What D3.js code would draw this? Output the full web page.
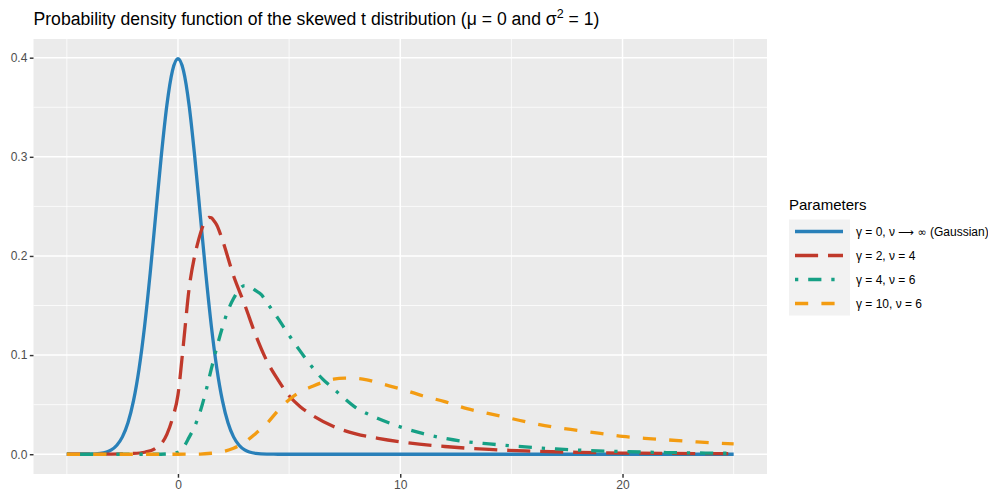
<!DOCTYPE html>
<html>
<head>
<meta charset="utf-8">
<script src="https://cdn.jsdelivr.net/npm/d3@7"></script>
<style>
  body { margin: 0; background: #ffffff; }
  text { font-family: "Liberation Sans", Arial, Helvetica, sans-serif; }
</style>
</head>
<body>
<svg id="chart" width="988" height="491"></svg>
<script>
// ---- density curves (x, density) ----
const gaussX = [-5, -4.5, -4, -3.5, -3, -2.75, -2.5, -2.25, -2, -1.75, -1.5, -1.25, -1, -0.75, -0.5, -0.25, 0,
  0.25, 0.5, 0.75, 1, 1.25, 1.5, 1.75, 2, 2.25, 2.5, 2.75, 3, 3.5, 4, 4.5, 5, 10, 15, 20, 25];
const gaussY = [0, 0, 0.0001, 0.0009, 0.0044, 0.0091, 0.0175, 0.0317, 0.054, 0.0863, 0.1295, 0.1826, 0.242, 0.3011, 0.3521, 0.3867, 0.3989,
  0.3867, 0.3521, 0.3011, 0.242, 0.1826, 0.1295, 0.0863, 0.054, 0.0317, 0.0175, 0.0091, 0.0044, 0.0009, 0.0001, 0, 0, 0, 0, 0, 0];

const skew2X = [-5, -3, -2, -1.5, -1, -0.5, -0.25, 0, 0.25, 0.5, 0.75, 0.9, 1, 1.1, 1.2, 1.3, 1.4, 1.5, 1.6, 1.75, 2, 2.5, 3, 3.5, 4, 4.5,
  5, 5.5, 6, 7, 8, 9, 10, 12, 14, 16, 18, 20, 22, 25];
const skew2Y = [0, 0.0002, 0.0008, 0.002, 0.006, 0.02, 0.036, 0.06, 0.112, 0.167, 0.2, 0.214, 0.222, 0.229, 0.234, 0.2375, 0.239, 0.2385, 0.236, 0.231, 0.216, 0.18, 0.151, 0.12, 0.094, 0.075,
  0.059, 0.048, 0.04, 0.028, 0.0205, 0.016, 0.0125, 0.0078, 0.0048, 0.0031, 0.0019, 0.0012, 0.0008, 0.0005];

const skew4X = [-5, -1, -0.5, 0, 0.25, 0.5, 0.75, 1, 1.25, 1.5, 1.75, 2, 2.25, 2.5, 2.75, 3, 3.25, 3.5, 3.75, 4, 4.5,
  5, 5.5, 6, 6.5, 7, 7.5, 8, 8.5, 9, 10, 11, 12, 13, 14, 15, 16, 17, 18, 20, 22, 25];
const skew4Y = [0, 0, 0.0003, 0.002, 0.007, 0.017, 0.028, 0.043, 0.063, 0.086, 0.108, 0.128, 0.145, 0.157, 0.166, 0.17, 0.169, 0.165, 0.161, 0.153, 0.137,
  0.12, 0.104, 0.089, 0.076, 0.066, 0.056, 0.047, 0.041, 0.036, 0.0276, 0.021, 0.016, 0.0125, 0.0104, 0.0085, 0.0068, 0.0053, 0.0042, 0.0027, 0.0017, 0.0009];

const skew10X = [-5, 0, 1, 1.5, 2, 2.5, 3, 3.5, 4, 4.5, 5, 5.5, 6, 6.5, 7, 7.5, 8, 8.5, 9, 9.5, 10,
  11, 12, 13, 14, 15, 16, 17, 18, 19, 20, 21, 22, 23, 24, 25];
const skew10Y = [0, 0, 0.0002, 0.001, 0.0025, 0.006, 0.012, 0.021, 0.031, 0.044, 0.055, 0.063, 0.068, 0.0725, 0.0757, 0.0767, 0.0765, 0.075, 0.072, 0.069, 0.066,
  0.059, 0.053, 0.046, 0.041, 0.036, 0.031, 0.027, 0.024, 0.021, 0.018, 0.016, 0.0145, 0.013, 0.0115, 0.0105];

const seriesLabels = ["γ = 0, ν ⟶ ∞ (Gaussian)", "γ = 2, ν = 4", "γ = 4, ν = 6", "γ = 10, ν = 6"];
const seriesColors = ["#2980B9", "#C0392B", "#16A085", "#F39C12"];

const xTicks = [0, 10, 20];
const xMinorTicks = [-5, 5, 15, 25];
const yTicks = [0, 0.1, 0.2, 0.3, 0.4];
const yMinorTicks = [0.05, 0.15, 0.25, 0.35];

// ---- layout ----
const svg = d3.select("#chart");
const panel = { left: 33.5, right: 767, top: 39, bottom: 474 };
const lw = 3.3; // curve line width
const dashes = [null, [7 * lw, 3 * lw], [1 * lw, 3 * lw, 4 * lw, 3 * lw], [4 * lw, 4 * lw]];

const series = [
  { xs: gaussX, ys: gaussY },
  { xs: skew2X, ys: skew2Y },
  { xs: skew4X, ys: skew4Y },
  { xs: skew10X, ys: skew10Y }
].map((s, i) => ({
  points: s.xs.map((x, j) => [x, s.ys[j]]),
  label: seriesLabels[i],
  color: seriesColors[i],
  dash: dashes[i]
}));

// data range with 5% expansion on each side
const allX = series.flatMap(s => s.points.map(p => p[0]));
const allY = series.flatMap(s => s.points.map(p => p[1]));
const [x0, x1] = d3.extent(allX);
const yMax = d3.max(allY), yMin = d3.min(allY);
const xPad = (x1 - x0) * 0.05, yPad = (yMax - yMin) * 0.05;

const x = d3.scaleLinear().domain([x0 - xPad, x1 + xPad]).range([panel.left, panel.right]);
const y = d3.scaleLinear().domain([yMin - yPad, yMax + yPad]).range([panel.bottom, panel.top]);

// panel background
svg.append("rect")
  .attr("x", panel.left).attr("y", panel.top)
  .attr("width", panel.right - panel.left).attr("height", panel.bottom - panel.top)
  .attr("fill", "#EBEBEB");

const grid = svg.append("g");
// minor grid
grid.selectAll(".vminor").data(xMinorTicks).join("line")
  .attr("x1", d => x(d)).attr("x2", d => x(d))
  .attr("y1", panel.top).attr("y2", panel.bottom)
  .attr("stroke", "#ffffff").attr("stroke-width", 0.75);
grid.selectAll(".hminor").data(yMinorTicks).join("line")
  .attr("x1", panel.left).attr("x2", panel.right)
  .attr("y1", d => y(d)).attr("y2", d => y(d))
  .attr("stroke", "#ffffff").attr("stroke-width", 0.75);
// major grid
grid.selectAll(".vmajor").data(xTicks).join("line")
  .attr("x1", d => x(d)).attr("x2", d => x(d))
  .attr("y1", panel.top).attr("y2", panel.bottom)
  .attr("stroke", "#ffffff").attr("stroke-width", 1.45);
grid.selectAll(".hmajor").data(yTicks).join("line")
  .attr("x1", panel.left).attr("x2", panel.right)
  .attr("y1", d => y(d)).attr("y2", d => y(d))
  .attr("stroke", "#ffffff").attr("stroke-width", 1.45);

// curves
const line = d3.line().x(d => x(d[0])).y(d => y(d[1])).curve(d3.curveMonotoneX);
svg.append("g").selectAll("path").data(series).join("path")
  .attr("d", d => line(d.points))
  .attr("fill", "none")
  .attr("stroke", d => d.color)
  .attr("stroke-width", lw)
  .attr("stroke-linecap", "butt")
  .attr("stroke-linejoin", "round")
  .attr("stroke-dasharray", d => d.dash ? d.dash.join(" ") : null);

// axes
const xAxis = svg.append("g")
  .attr("transform", `translate(0,${panel.bottom})`)
  .call(d3.axisBottom(x).tickValues(xTicks).tickFormat(d3.format("d")).tickSize(3.7).tickPadding(2.5));
const yAxis = svg.append("g")
  .attr("transform", `translate(${panel.left},0)`)
  .call(d3.axisLeft(y).tickValues(yTicks).tickFormat(d3.format(".1f")).tickSize(3.7).tickPadding(2.5));
[xAxis, yAxis].forEach(a => {
  a.select(".domain").remove();
  a.selectAll(".tick line").attr("stroke", "#333333").attr("stroke-width", 1.45);
  a.selectAll(".tick text").attr("fill", "#4D4D4D").style("font-size", "12px")
    .style("font-family", '"Liberation Sans", Arial, sans-serif');
});

// title
const title = svg.append("text")
  .attr("x", panel.left).attr("y", 25)
  .attr("fill", "#000000")
  .style("font-size", "17.6px");
title.append("tspan").text("Probability density function of the skewed t distribution (μ = 0 and σ");
title.append("tspan").text("2").attr("dy", -7).style("font-size", "12.5px");
title.append("tspan").text(" = 1)").attr("dy", 7);

// legend
const legend = svg.append("g").attr("transform", "translate(789,0)");
legend.append("text").attr("x", 0).attr("y", 210)
  .style("font-size", "15px").attr("fill", "#000000").text("Parameters");
const keyH = 24, keyTop = 219.5;
legend.append("rect").attr("x", 0).attr("y", keyTop)
  .attr("width", 61).attr("height", keyH * series.length).attr("fill", "#F2F2F2");
const rows = legend.selectAll(".row").data(series).join("g")
  .attr("transform", (d, i) => `translate(0,${keyTop + keyH * i + keyH / 2})`);
rows.append("line")
  .attr("x1", 6).attr("x2", 54).attr("y1", 0).attr("y2", 0)
  .attr("stroke", d => d.color).attr("stroke-width", lw)
  .attr("stroke-dasharray", d => d.dash ? d.dash.join(" ") : null);
rows.append("text")
  .attr("x", 67).attr("y", 0).attr("dy", "0.35em")
  .style("font-size", "12px").attr("fill", "#000000")
  .each(function (d) {
    // the arrow and infinity glyphs come from DejaVu Sans, which carries them at full size
    const t = d3.select(this);
    d.label.split(/([⟶∞])/).filter(p => p.length).forEach(part => {
      const ts = t.append("tspan").text(part);
      if (part === "⟶" || part === "∞") ts.style("font-family", '"DejaVu Sans", sans-serif').style("font-size", "11px");
    });
  });
</script>
</body>
</html>
